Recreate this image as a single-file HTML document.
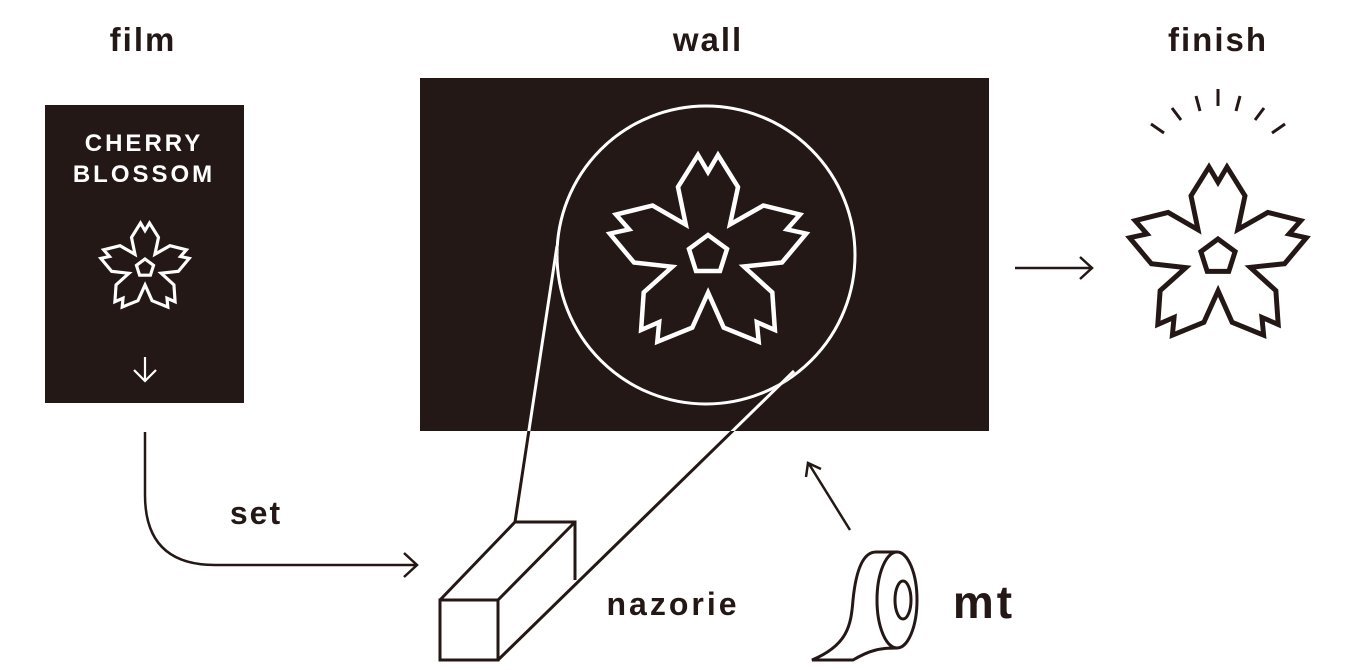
<!DOCTYPE html>
<html><head><meta charset="utf-8"><style>
html,body{margin:0;padding:0;background:#fff;}
svg{display:block}
text{font-family:"Liberation Sans",sans-serif;font-weight:bold;fill:#231815}
</style></head><body>
<svg width="1364" height="670" viewBox="0 0 1364 670" xmlns="http://www.w3.org/2000/svg">
<defs>
<path id="fl" d="M-30,-68 L-10,-100 L0,-83 L10,-100 L30,-68 L22,-30.5
L55.4,-49.5 L92,-40.4 L78.9,-25.6 L98.2,-21.4 L74,7.5 L35.8,11.5
L64.3,37.4 L66.9,75 L48.8,67.1 L50.7,86.8 L15.7,72.6 L0.1,37.6
L-15.7,72.6 L-50.7,86.8 L-48.8,67.1 L-66.9,75 L-64.3,37.4 L-35.7,11.8
L-74,7.5 L-98.2,-21.4 L-78.9,-25.6 L-92,-40.4 L-55.4,-49.5 L-22.2,-30.3 Z
M0,-20 L19,-6 L12,16 L-12,16 L-19,-6 Z" fill="none" stroke-linejoin="miter"/>
<clipPath id="wc"><rect x="420" y="78" width="569" height="353"/></clipPath>
</defs>
<text x="143" y="51" font-size="33" text-anchor="middle" letter-spacing="2">film</text>
<text x="708" y="51" font-size="33" text-anchor="middle" letter-spacing="2">wall</text>
<text x="1218" y="51" font-size="33" text-anchor="middle" letter-spacing="2">finish</text>

<rect x="45" y="105" width="199" height="298" fill="#231815"/>
<text x="144" y="151" font-size="24" text-anchor="middle" style="fill:#fff" letter-spacing="3">CHERRY</text>
<text x="144" y="182" font-size="24" text-anchor="middle" style="fill:#fff" letter-spacing="3">BLOSSOM</text>
<use href="#fl" transform="translate(145,268) scale(0.45)" stroke="#fff" stroke-width="7"/>
<path d="M145,357 V381 M134,370 L145,381 L156,370" stroke="#fff" stroke-width="2.2" fill="none"/>

<rect x="420" y="78" width="569" height="353" fill="#231815"/>
<circle cx="706" cy="255" r="149" fill="none" stroke="#fff" stroke-width="3"/>
<use href="#fl" transform="translate(708,255)" stroke="#fff" stroke-width="4.5"/>
<g stroke-width="3">
<line x1="515" y1="522" x2="557" y2="246" stroke="#231815"/>
<line x1="498" y1="660" x2="794" y2="371" stroke="#231815"/>
<g clip-path="url(#wc)" stroke="#fff">
<line x1="515" y1="522" x2="557" y2="246"/>
<line x1="498" y1="660" x2="794" y2="371"/>
</g>
</g>

<g stroke="#231815" stroke-width="3" fill="none">
<path d="M145,432 V495 Q145,565 215,565 H416 M404,553 L417,565 L404,577" stroke-width="2.5"/>
<rect x="440" y="600" width="58" height="60" fill="#fff"/>
<path d="M440,600 L515,522 H575 V580 M498,600 L575,522"/>
<path d="M850,530 L809,464 M806,477 L808,463 L821,469" stroke-width="2.5"/>
<path d="M1015,268 H1092 M1080,257 L1092,268 L1080,279" stroke-width="2.5"/>
<path d="M897,552 H876 C860,552 855,580 853,600 C851,625 848,645 812,660 H853 C870,650 880,648 897,648" stroke-width="3"/>
<ellipse cx="897" cy="600" rx="20" ry="48" fill="#fff"/>
<ellipse cx="903" cy="600" rx="8" ry="19"/>
<g stroke-width="3">
<line x1="1151" y1="124" x2="1164" y2="133"/>
<line x1="1172" y1="108" x2="1181" y2="120"/>
<line x1="1196" y1="96" x2="1200" y2="111"/>
<line x1="1218" y1="89" x2="1218" y2="106"/>
<line x1="1240" y1="96" x2="1236" y2="111"/>
<line x1="1264" y1="108" x2="1255" y2="120"/>
<line x1="1285" y1="124" x2="1272" y2="133"/>
</g>
</g>
<use href="#fl" transform="translate(1218,257) scale(0.9)" stroke="#231815" stroke-width="5.5"/>

<text x="256" y="524" font-size="32" text-anchor="middle" letter-spacing="2">set</text>
<text x="673" y="615" font-size="32" text-anchor="middle" letter-spacing="3">nazorie</text>
<text x="984" y="618" font-size="46" text-anchor="middle" letter-spacing="3">mt</text>
</svg>
</body></html>
